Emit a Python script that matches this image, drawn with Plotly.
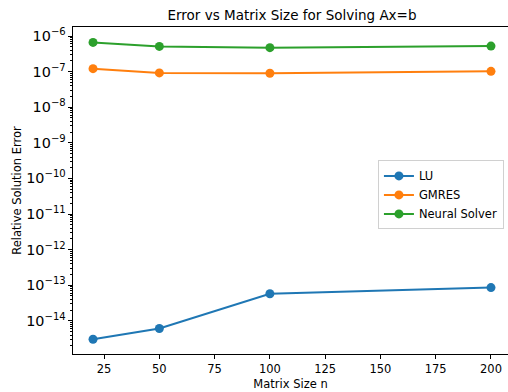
import plotly.graph_objects as go

sizes = [20, 50, 100, 200]
lu_err = [3.06e-15, 6.1e-15, 5.8e-14, 8.6e-14]
gmres_err = [1.21e-7, 9.2e-8, 9.0e-8, 1.02e-7]
neural_err = [6.6e-7, 5.1e-7, 4.7e-7, 5.2e-7]

names = ["LU", "GMRES", "Neural Solver"]
colors = ["#1f77b4", "#ff7f0e", "#2ca02c"]
series = [lu_err, gmres_err, neural_err]

fig = go.Figure()
for name, col, ys in zip(names, colors, series):
    fig.add_trace(go.Scatter(
        x=sizes, y=ys, name=name, mode="lines+markers",
        line=dict(color=col, width=2),
        marker=dict(color=col, size=9, symbol="circle"),
    ))

font = "DejaVu Sans"
fig.update_layout(
    width=508, height=392,
    margin=dict(l=73, r=0, t=27, b=38),
    paper_bgcolor="white", plot_bgcolor="white",
    font=dict(family=font, size=11, color="black"),
    title=dict(text="Error vs Matrix Size for Solving Ax=b", x=(73 + 511) / 2 / 508,
               xanchor="center", y=1 - 15 / 392, yanchor="middle",
               font=dict(size=13.5, color="black")),
    showlegend=True,
    legend=dict(x=0.701, y=0.592, xanchor="left", yanchor="top",
                bordercolor="#d0d0d0", borderwidth=1, bgcolor="rgba(255,255,255,0.8)",
                font=dict(size=11.5, color="black"), tracegroupgap=0),
)
fig.update_xaxes(
    range=[10.94, 207.7], tickvals=[25, 50, 75, 100, 125, 150, 175, 200],
    showgrid=False, zeroline=False, showline=True, linecolor="black", linewidth=1,
    mirror=True, ticks="outside", ticklen=4, tickcolor="black",
    title=dict(text="Matrix Size n", standoff=5, font=dict(size=11.5)),
    tickfont=dict(size=11.5),
)
fig.update_yaxes(
    type="log", range=[-14.93, -5.747], dtick=1, exponentformat="power",
    showgrid=False, zeroline=False, showline=True, linecolor="black", linewidth=1,
    ticks="outside", ticklen=4, tickcolor="black",
    minor=dict(ticks="outside", ticklen=2, tickcolor="black", dtick="D1", showgrid=False),
    title=dict(text="Relative Solution Error", standoff=2, font=dict(size=11.5)),
    tickfont=dict(size=11.5),
)
fig.write_html("out.html")
